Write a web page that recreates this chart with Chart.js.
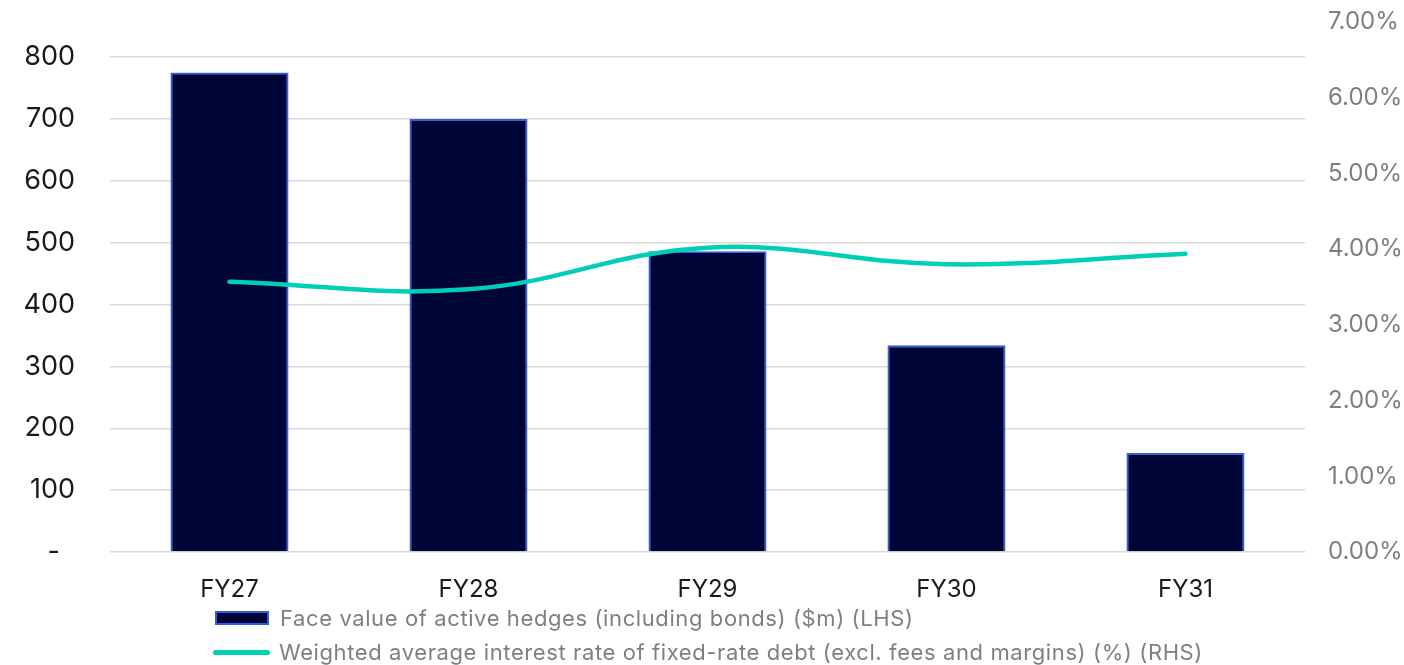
<!DOCTYPE html>
<html>
<head>
<meta charset="utf-8">
<script src="https://cdn.jsdelivr.net/npm/chart.js@4.4.0/dist/chart.umd.min.js"></script>
<style>
  html, body { margin: 0; padding: 0; background: #ffffff; }
  #wrap { position: relative; width: 1404px; height: 665px; overflow: hidden; }
  #c { position: absolute; left: 0; top: 0; }
  #legend { position: absolute; left: 213px; top: 601px; font-family: "Inter", sans-serif; font-size: 22px; letter-spacing: 0.6px; color: #7f7f7f; }
  .item { display: flex; align-items: center; height: 34px; white-space: nowrap; }
  .sw-bar { width: 50px; height: 10px; background: #000537; border: 2px solid #2d5fe0; margin-left: 2px; margin-right: 11px; }
  .sw-line { width: 57px; height: 5px; background: #00cfb8; border-radius: 3px; margin-right: 9px; }
</style>
</head>
<body>
<div id="wrap">
  <canvas id="c" width="1404" height="665"></canvas>
  <div id="legend"></div>
</div>
<script>
const categories = ["FY27", "FY28", "FY29", "FY30", "FY31"];
const hedgeValues = [775, 700, 486, 334, 160];
const rateValues = [3.57, 3.47, 4.02, 3.80, 3.94];
const leftTicks = [0, 100, 200, 300, 400, 500, 600, 700, 800];
const rightTicks = [0, 1, 2, 3, 4, 5, 6, 7];
const seriesNames = [
  "Face value of active hedges (including bonds) ($m) (LHS)",
  "Weighted average interest rate of fixed-rate debt (excl. fees and margins) (%) (RHS)"
];

const FONT = "Inter";

function noPadY(s) { s.paddingTop = 0; s.paddingBottom = 0; }

const chart = new Chart(document.getElementById("c"), {
  data: {
    labels: categories,
    datasets: [
      {
        type: "line",
        label: seriesNames[1],
        data: rateValues,
        yAxisID: "yR",
        borderColor: "#00cfb8",
        borderWidth: 4.5,
        borderCapStyle: "round",
        pointRadius: 0,
        tension: 0.4,
        order: 0
      },
      {
        type: "bar",
        label: seriesNames[0],
        data: hedgeValues,
        yAxisID: "yL",
        backgroundColor: "#000537",
        borderColor: "#2d5fe0",
        borderWidth: 1.8,
        categoryPercentage: 1,
        barPercentage: 0.494,
        order: 1
      }
    ]
  },
  options: {
    responsive: false,
    animation: false,
    layout: { padding: { top: 22, left: 0, right: 0, bottom: 0 } },
    plugins: { legend: { display: false }, tooltip: { enabled: false } },
    scales: {
      x: {
        grid: { display: false },
        border: { display: false },
        ticks: { color: "#1a1a1a", font: { family: FONT, size: 24 }, padding: 15 },
        afterFit: s => { s.height = 113; s.paddingLeft = 0; s.paddingRight = 0; }
      },
      yL: {
        position: "left",
        min: 0,
        max: 856.6,
        border: { display: false },
        grid: { color: "#d9d9d9", lineWidth: 1.5, drawTicks: false },
        afterBuildTicks: s => { s.ticks = leftTicks.map(v => ({ value: v })); },
        ticks: {
          color: "#1a1a1a",
          font: { family: FONT, size: 27 },
          padding: 35,
          callback: v => (v === 0 ? "-  " : String(v))
        },
        afterFit: s => { s.width = 110; noPadY(s); }
      },
      yR: {
        position: "right",
        min: 0,
        max: 7,
        border: { display: false },
        grid: { display: false, drawTicks: false },
        afterBuildTicks: s => { s.ticks = rightTicks.map(v => ({ value: v })); },
        ticks: {
          color: "#7f7f7f",
          font: { family: FONT, size: 24 },
          padding: 23,
          callback: v => v.toFixed(2) + "%"
        },
        afterFit: s => { s.width = 99; noPadY(s); }
      }
    }
  }
});

const legend = document.getElementById("legend");
legend.innerHTML =
  '<div class="item"><div class="sw-bar"></div><span>' + seriesNames[0] + '</span></div>' +
  '<div class="item"><div class="sw-line"></div><span>' + seriesNames[1] + '</span></div>';
</script>
</body>
</html>
